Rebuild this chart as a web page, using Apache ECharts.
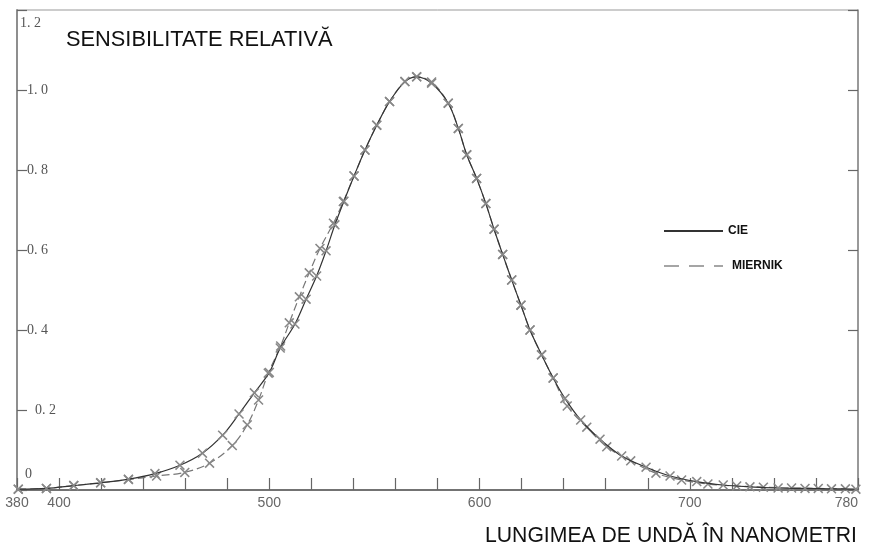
<!DOCTYPE html>
<html>
<head>
<meta charset="utf-8">
<script src="https://cdn.jsdelivr.net/npm/echarts@6/dist/echarts.min.js"></script>
<style>html,body{margin:0;padding:0;background:#fff}#c{width:872px;height:543px}</style>
</head>
<body>
<div id="c"></div>
<script>
// ---- data ----
const cieWavelengths = [380.6,394,407,419.8,433,445.6,457.5,468.2,477.8,485.6,492.9,500,505.2,512.2,517.5,522.5,527,531.2,535.5,540.3,545.5,551.1,557.2,564.5,570.1,577.2,585.1,589.9,593.9,598.6,603,606.9,611,615.3,619.7,624,629.5,635,640.6,648.1,657.3,667.6,679.2,690.6,703.3,715.9,728.6,742,754.8,767.4,779];
const cieValues = [0.002,0.004,0.011,0.018,0.027,0.041,0.062,0.092,0.137,0.19,0.243,0.294,0.355,0.415,0.477,0.535,0.598,0.663,0.722,0.785,0.85,0.912,0.971,1.021,1.033,1.017,0.967,0.904,0.838,0.779,0.716,0.652,0.589,0.525,0.462,0.4,0.338,0.28,0.229,0.175,0.127,0.085,0.057,0.035,0.021,0.0125,0.008,0.005,0.004,0.003,0.002];

const miernikWavelengths = [380.6,394,407,419.8,433,446.4,459.8,471.6,482.4,489.5,494.9,499.5,505.4,509.5,514.3,519,524.1,530.5,535.2,540.3,545.5,551.1,557.2,564.5,570.1,577.2,585.1,589.9,593.9,598.6,603,606.9,611,615.3,619.7,624,629.5,635,641.7,651,660.5,671.9,683.9,696.1,708.6,722.3,735,748.4,761.1,774];
const miernikValues = [0.002,0.004,0.011,0.018,0.026,0.035,0.044,0.067,0.111,0.163,0.225,0.292,0.36,0.418,0.483,0.543,0.604,0.667,0.721,0.785,0.85,0.912,0.971,1.021,1.033,1.02,0.967,0.904,0.838,0.779,0.716,0.652,0.589,0.525,0.462,0.4,0.338,0.28,0.21,0.157,0.108,0.073,0.042,0.025,0.015,0.01,0.007,0.005,0.004,0.003];

const seriesNames = ['CIE', 'MIERNIK'];
const xLabelValues = [380, 400, 500, 600, 700, 780];
const yTickLabels = ['0', '0. 2', '0. 4', '0. 6', '0. 8', '1. 0', '1. 2'];
const titleText = 'SENSIBILITATE RELATIVĂ';
const xTitleText = 'LUNGIMEA DE UNDĂ ÎN NANOMETRI';

function pairs(xs, ys) { return xs.map((x, i) => [x, ys[i]]); }

const crossPath = 'path://M0,1.1L1.1,0L10,8.9L8.9,10Z M8.9,0L10,1.1L1.1,10L0,8.9Z';

const chart = echarts.init(document.getElementById('c'), null, {renderer: 'canvas'});
chart.setOption({
  animation: false,
  backgroundColor: '#fff',
  title: [
    {text: titleText, left: 61, top: 24, textStyle: {fontFamily: 'Liberation Sans', fontSize: 21.8, fontWeight: 'normal', color: '#111'}},
    {text: xTitleText, right: 10, top: 521, textStyle: {fontFamily: 'Liberation Sans', fontSize: 21.2, fontWeight: 'normal', color: '#111'}}
  ],
  legend: {
    orient: 'vertical', left: 663, top: 220, padding: [5, 0, 0, 0], itemWidth: 59, itemHeight: 14, itemGap: 23,
    selectedMode: false,
    itemStyle: {opacity: 0},
    textStyle: {fontFamily: 'Liberation Sans', fontWeight: 'bold', fontSize: 12, color: '#111'},
    data: [
      {name: seriesNames[0], textStyle: {padding: [0, 0, 0, 0]}},
      {name: seriesNames[1], lineStyle: {type: [15, 10], width: 1.3, color: '#888'}, textStyle: {padding: [0, 0, 0, 4]}}
    ]
  },
  grid: {left: 17, right: 14, top: 10, bottom: 53, show: true, borderColor: '#999', borderWidth: 1},
  xAxis: {
    type: 'value', min: 380, max: 780, interval: 20,
    axisLine: {show: true, onZero: false, lineStyle: {color: '#555', width: 1.6}},
    axisTick: {show: true, inside: true, length: 12, lineStyle: {color: '#666', width: 1.2}},
    splitLine: {show: false},
    axisLabel: {
      margin: 6, color: '#666', fontFamily: 'Liberation Sans', fontSize: 14,
      showMinLabel: true, showMaxLabel: true, alignMaxLabel: 'right',
      formatter: v => xLabelValues.indexOf(Math.round(v)) >= 0 ? String(Math.round(v)) : ''
    }
  },
  yAxis: [
    {
      type: 'value', min: 0, max: 1.2, interval: 0.2, position: 'left',
      axisLine: {show: true, lineStyle: {color: '#888', width: 1.8}},
      axisTick: {show: true, inside: true, length: 10, lineStyle: {color: '#666', width: 1.2}},
      splitLine: {show: false},
      axisLabel: {
        inside: true, margin: 3, color: '#555', fontFamily: 'Liberation Serif', fontSize: 14,
        showMinLabel: true, showMaxLabel: true,
        formatter: (v, i) => {
          const idx = Math.round(v / 0.2);
          const t = yTickLabels[idx];
          if (idx === 0) return '{z|' + t + '}';
          if (idx === 6) return '{t|' + t + '}';
          if (idx === 1) return '{s|' + t + '}';
          return '{n|' + t + '}';
        },
        rich: {
          z: {padding: [0, 0, 32, 5], color: '#555', fontFamily: 'Liberation Serif', fontSize: 14},
          t: {padding: [27, 0, 0, 0], color: '#555', fontFamily: 'Liberation Serif', fontSize: 14},
          s: {padding: [0, 0, 0, 15], color: '#555', fontFamily: 'Liberation Serif', fontSize: 14},
          n: {padding: [0, 0, 0, 7], color: '#555', fontFamily: 'Liberation Serif', fontSize: 14}
        }
      }
    },
    {
      type: 'value', min: 0, max: 1.2, interval: 0.2, position: 'right',
      axisLine: {show: true, lineStyle: {color: '#888', width: 1.5}},
      axisTick: {show: true, inside: true, length: 10, lineStyle: {color: '#666', width: 1.2}},
      splitLine: {show: false},
      axisLabel: {show: false}
    }
  ],
  series: [
    {
      name: seriesNames[1], type: 'line', smooth: 0.35, z: 2,
      data: pairs(miernikWavelengths, miernikValues),
      showSymbol: true, symbol: crossPath, symbolSize: 10,
      itemStyle: {color: '#888'},
      lineStyle: {type: [8, 4], width: 1.2, color: '#777'}
    },
    {
      name: seriesNames[0], type: 'line', smooth: 0.35, z: 3,
      data: pairs(cieWavelengths, cieValues),
      showSymbol: true, symbol: crossPath, symbolSize: 10,
      itemStyle: {color: '#888'},
      lineStyle: {type: 'solid', width: 1.2, color: '#333'}
    }
  ]
});
</script>
</body>
</html>
